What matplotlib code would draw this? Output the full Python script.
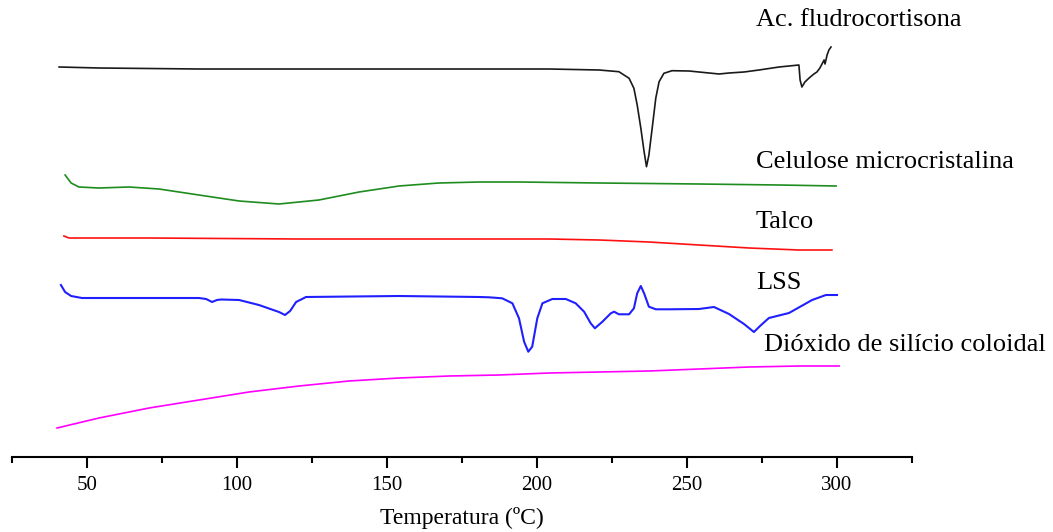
import matplotlib
matplotlib.use("Agg")
import matplotlib.pyplot as plt
from matplotlib.ticker import MultipleLocator

plt.rcParams['font.family'] = ['Liberation Serif', 'DejaVu Serif']

# DSC curves, temperature (C) vs heat flow (arbitrary units, stacked)
fludro_t = [40.7, 54, 87.3, 154, 204, 220.7, 227.3, 230.7, 232.3, 233.4, 234.6, 235.7, 236.5,
            237.3, 238.4, 239.6, 240.7, 242.3, 245, 250.7, 254, 260.7, 264, 269, 274, 280.7,
            287.3, 287.7, 288.3, 289.3, 290.7, 292.3, 293.3, 294.3, 295, 295.7, 296, 296.7,
            297.3, 298]
fludro_y = [390, 389, 388, 388, 388, 387, 385.3, 378.7, 368.7, 352, 329, 305.3, 290.3,
            302, 329, 359, 375.3, 383.7, 386.3, 386, 385, 383, 384, 385, 387, 390,
            392, 377, 370, 375, 379, 383, 385, 389, 393, 397, 393, 402,
            407, 410]

celul_t = [42.7, 44.7, 47.3, 54, 64, 74, 87.3, 100.7, 114, 127.3, 140.7, 154, 167.3,
           180.7, 194, 220.7, 254, 280.7, 299.7]
celul_y = [282, 274, 270, 269, 270, 268, 262, 256, 253, 257, 265, 271, 274,
           275, 275, 274, 273, 272, 271]

talco_t = [42.3, 44, 70.7, 120.7, 170.7, 204, 220.7, 237.3, 254, 270.7, 287.3, 298.3]
talco_y = [221, 219, 219, 218, 218, 218, 217, 215, 212, 209, 207, 207]

lss_t = [41.3, 42.7, 44.7, 48.3, 70.7, 87.3, 89.7, 91.7, 93.3, 94.7, 100.7, 107.3, 114,
         116, 117.7, 119.7, 123, 154, 180.7, 184, 188.4, 191.8, 194, 195.7, 197.1, 198.4,
         200.1, 201.8, 205.1, 209.6, 212.9, 215.7, 217.9, 219.3, 221.8, 224.6, 225.7,
         227.3, 230.7, 232.3, 233.4, 234.6, 235.7, 237.3, 239.6, 244, 254, 259, 264, 269,
         272.3, 274.7, 277.3, 284, 291.7, 296.3, 300]
lss_y = [172, 165, 161, 159, 159, 159, 158, 155, 157, 157.5, 157, 152, 145,
         142, 146, 155, 160, 161, 160, 159.7, 158.7, 153.7, 138.7, 115.3, 105.3, 110.3,
         138.7, 153.7, 158, 158, 153.7, 145.3, 133.7, 128.7, 135.3, 143.7, 145.3,
         142.7, 142.7, 148.7, 163.7, 171, 163.7, 150.3, 147.7, 147.7, 148, 150, 143, 133,
         125, 132, 139, 144, 157, 162, 162]

sio2_t = [40, 54, 70.7, 87.3, 104, 120.7, 137.3, 154, 170.7, 187.3, 204, 220.7, 237.3,
          254, 270.7, 287.3, 300.7]
sio2_y = [29, 39, 49, 57, 65, 71, 76, 79, 81, 82, 84, 85, 86, 88, 90, 91, 91]

labels = ['Ac. fludrocortisona', 'Celulose microcristalina', 'Talco', 'LSS',
          'Dióxido de silício coloidal']
label_x = [273, 273, 273, 273, 275.7]
label_y = [437, 295, 235, 174, 112]

fig = plt.figure(figsize=(10.53, 5.32), dpi=100)
ax = fig.add_axes([12 / 1053, 75 / 532, 900 / 1053, 457 / 532])

ax.plot(fludro_t, fludro_y, color='#1a1a1a', lw=1.2)
ax.plot(celul_t, celul_y, color='#1e8c1e', lw=1.2)
ax.plot(talco_t, talco_y, color='#ff1010', lw=1.2)
ax.plot(lss_t, lss_y, color='#2020ff', lw=1.5)
ax.plot(sio2_t, sio2_y, color='#ff00ff', lw=1.2)

for txt, tx, ty in zip(labels, label_x, label_y):
    ax.text(tx, ty, txt, fontsize=19, va='center', ha='left', clip_on=False)

ax.set_xlim(25, 325)
ax.set_ylim(0, 457)
ax.xaxis.set_major_locator(MultipleLocator(50))
ax.xaxis.set_minor_locator(MultipleLocator(25))
ax.tick_params(axis='x', which='major', length=8, width=1.5, labelsize=15, pad=6)
ax.tick_params(axis='x', which='minor', length=4, width=1.5)
ax.set_yticks([])
for s in ['left', 'right', 'top']:
    ax.spines[s].set_visible(False)
ax.spines['bottom'].set_linewidth(1.5)
ax.set_xlabel('Temperatura (ºC)', fontsize=17, labelpad=8)

fig.savefig('out.png', dpi=100)
